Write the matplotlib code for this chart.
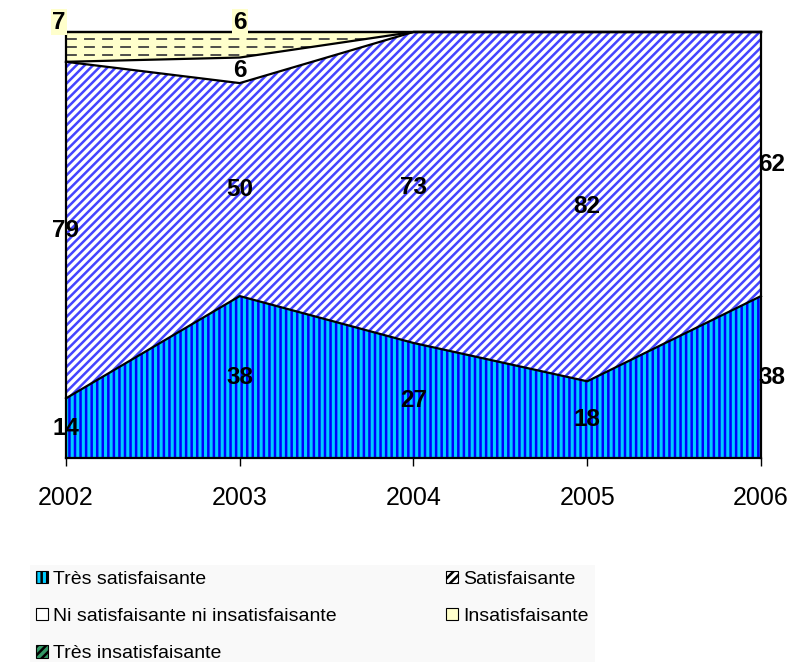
import matplotlib
matplotlib.use("Agg")
import matplotlib.pyplot as plt
from matplotlib.patches import Patch
import numpy as np

plt.rcParams['font.family'] = ['Liberation Sans', 'DejaVu Sans']
plt.rcParams['hatch.linewidth'] = 1.8

years = [2002, 2003, 2004, 2005, 2006]
series_names = ["Très satisfaisante", "Satisfaisante",
                "Ni satisfaisante ni insatisfaisante", "Insatisfaisante",
                "Très insatisfaisante"]
tres_satisf = [14, 38, 27, 18, 38]
satisf = [79, 50, 73, 82, 62]
ni_ni = [0, 6, 0, 0, 0]
insatisf = [7, 6, 0, 0, 0]
tres_insatisf = [0, 0, 0, 0, 0]

series = [tres_satisf, satisf, ni_ni, insatisf, tres_insatisf]
styles = [
    dict(facecolor="#00CCFF", edgecolor="#0000FF", hatch="|||"),
    dict(facecolor="white", edgecolor="#4444FF", hatch="////"),
    dict(facecolor="white", edgecolor="white", hatch=None),
    dict(facecolor="#FFFFCC", edgecolor="#FFFFCC", hatch=None),
    dict(facecolor="#339966", edgecolor="#003300", hatch="////"),
]

fig = plt.figure(figsize=(7.94, 6.62), dpi=100)
ax = fig.add_axes([0.0831, 0.3082, 0.8753, 0.6435])

x = np.array(years)
lower = np.zeros(len(years))
polys = []
for vals, st in zip(series, styles):
    upper = lower + np.array(vals)
    p = ax.fill_between(x, lower, upper, facecolor=st["facecolor"],
                        edgecolor=st["edgecolor"], hatch=st["hatch"],
                        linewidth=0)
    polys.append((p, lower.copy(), upper.copy()))
    lower = upper

# dashed pattern of "Insatisfaisante"
insat_poly = polys[3][0]
for yy in [98.4, 96.5, 94.7]:
    ln, = ax.plot([x[0], x[-1]], [yy, yy], color="#404040", lw=1.3,
                  linestyle=(0, (6, 4)))
    ln.set_clip_path(insat_poly.get_paths()[0], ax.transData)

# black boundaries
for p, lo, up in polys:
    ax.plot(x, up, color="black", lw=1.6, clip_on=False, zorder=3)

# data labels
for i, yr in enumerate(years):
    base = 0
    for k, vals in enumerate(series):
        v = vals[i]
        if v > 0:
            if k == 3:
                ty = 102.3
                bg = dict(facecolor="#FFFFCC", edgecolor="none", pad=1)
            else:
                ty = base + v / 2
                bg = None
            dx = 8 if yr == 2006 else (-5 if (k == 3 and yr == 2002) else 0)
            ax.annotate(str(v), (yr, ty), xytext=(dx, 0),
                        textcoords="offset points", ha="center", va="center",
                        fontsize=17.5, fontweight="bold", bbox=bg,
                        annotation_clip=False, zorder=5)
        base += v

ax.set_xlim(2002, 2006)
ax.set_ylim(0, 100)
ax.set_xticks(years)
ax.set_xticklabels([str(y) for y in years], fontsize=18)
ax.tick_params(axis="x", direction="out", length=6, width=1, pad=14)
ax.set_yticks([])
ax.spines["top"].set_visible(False)
for s in ["left", "right", "bottom"]:
    ax.spines[s].set_linewidth(1.6)
    ax.spines[s].set_zorder(4)

handles = []
for name, st in zip(series_names, styles):
    handles.append(Patch(facecolor=st["facecolor"], hatch=st["hatch"],
                         edgecolor="black", linewidth=0.8, label=name))
order = [0, 2, 4, 1, 3]
leg = fig.legend([handles[i] for i in order], [series_names[i] for i in order],
                 loc="upper left", bbox_to_anchor=(0.0378, 0.147), ncol=2,
                 fontsize=14, frameon=True, fancybox=False,
                 borderaxespad=0, handlelength=0.6, handleheight=0.6,
                 handletextpad=0.3, columnspacing=5.6, labelspacing=1.05,
                 borderpad=0.3)
leg.get_frame().set_facecolor("#F8F8F8")
leg.get_frame().set_edgecolor("none")

fig.savefig("out.png", dpi=100)
